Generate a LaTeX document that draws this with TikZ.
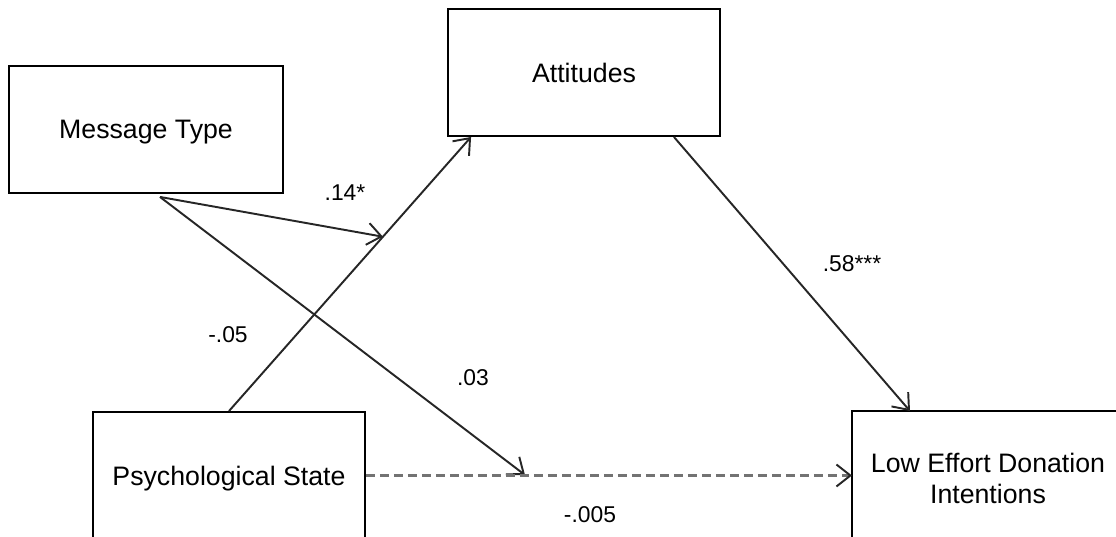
\documentclass[tikz,border=0pt]{standalone}
\usepackage{fontspec}
\setmainfont{Liberation Sans}
\usetikzlibrary{arrows.meta,calc}

\tikzset{
  box/.style={draw,line width=1.1pt,minimum width=5.44cm,minimum height=2.54cm,
    align=center,text depth=0pt,font=\fontsize{15.2}{17.6}\selectfont},
  coef/.style={font=\fontsize{13}{15}\selectfont},
  link/.style={line width=1.1pt,draw=black!85,
    -{Straight Barb[length=2.8mm,width=4.4mm,line width=1.1pt,color=black!85]}}
}

\begin{document}
\begin{tikzpicture}[x=0.02cm,y=-0.02cm]
\useasboundingbox (0,0) rectangle (1116,537);
\node[box,minimum width=5.48cm] (msg) at (146,129.5) {Message Type};
\node[box] (att) at (584,72.5) {Attitudes};
\node[box] (psy) at (229,475.5) {Psychological State};
\node[box,draw=none,minimum width=6.4cm,anchor=west] (low) at (852,475.5) {};
\draw[line width=1.1pt] (low.south west) -- (low.north west) -- (low.north east);
\node[align=center,font=\fontsize{15.2}{17.6}\selectfont] (lowtxt) at (988,478) {Low Effort Donation\\Intentions};

\coordinate (atip) at ($(att.south west)+(24,0)$);
\coordinate (mod) at ($(psy.north)!0.636!(atip)$);
\coordinate (mstart) at ($(msg.south)+(14,3)$);
\coordinate (dtip) at (525,475);

\draw[link] (psy.north) -- (atip);
\draw[link] (mstart) -- (mod);
\draw[link] (mstart) -- (dtip);
\draw[link] ($(att.south east)+(-47,0)$) -- ($(low.north west)+(58,0)$);
\draw[link,draw=black!55,line width=1.6pt,dash pattern=on 0.18cm off 0.1cm] (psy.east) -- (low.west);

\node[coef] (c1) at (345,193) {.14*};
\node[coef] (c2) at (228,335) {-.05};
\node[coef] (c3) at (473,378) {.03};
\node[coef] (c4) at (852,264) {.58***};
\node[coef] (c5) at (590,515) {-.005};
\end{tikzpicture}
\end{document}
